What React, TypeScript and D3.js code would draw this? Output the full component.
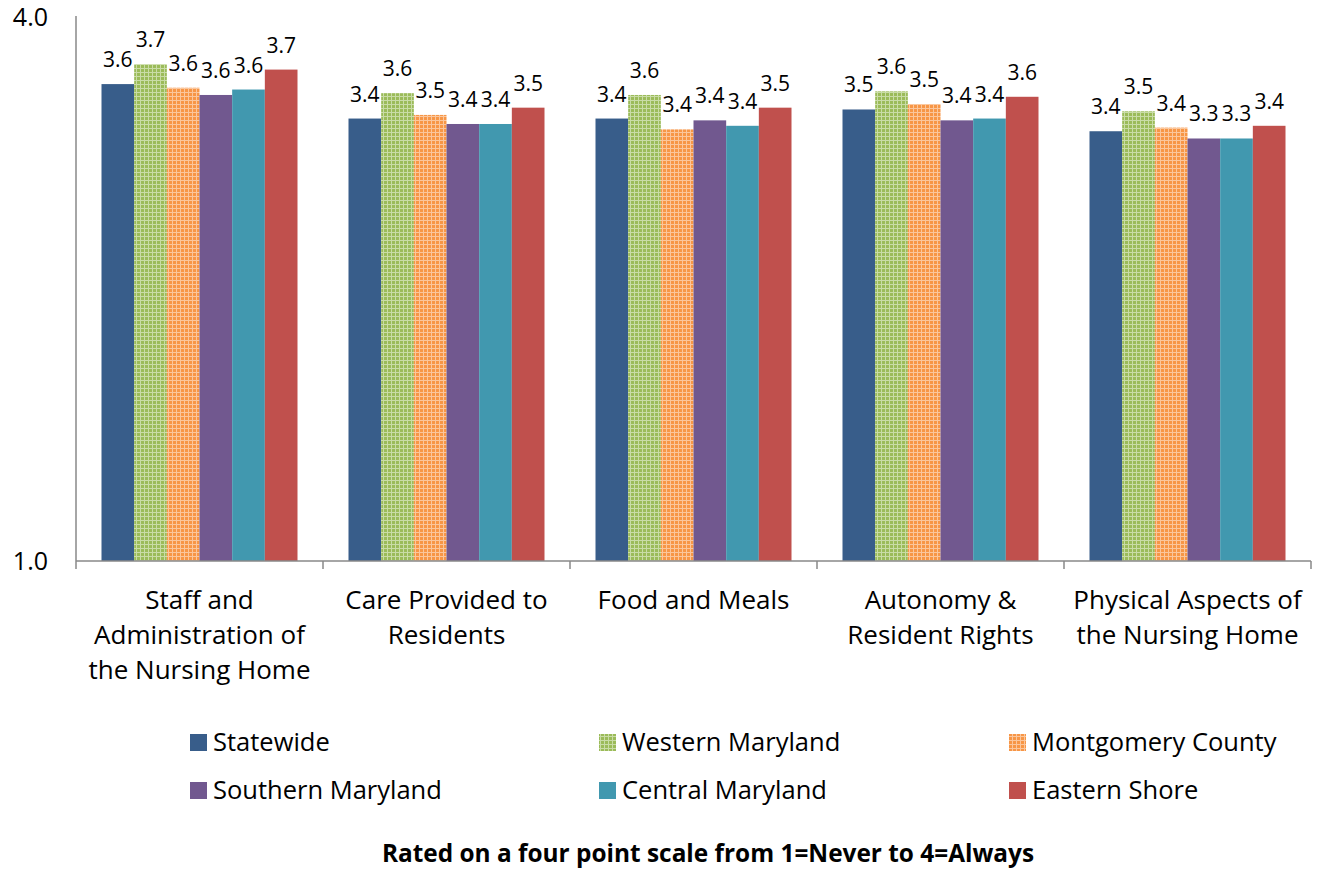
import React from "react";
import * as d3 from "d3";

const categories: string[][] = [
  ["Staff and", "Administration of", "the Nursing Home"],
  ["Care Provided to", "Residents"],
  ["Food and Meals"],
  ["Autonomy &", "Resident Rights"],
  ["Physical Aspects of", "the Nursing Home"],
];

const seriesNames = [
  "Statewide",
  "Western Maryland",
  "Montgomery County",
  "Southern Maryland",
  "Central Maryland",
  "Eastern Shore",
];

const statewide = [3.63, 3.44, 3.44, 3.49, 3.37];
const westernMaryland = [3.74, 3.58, 3.57, 3.59, 3.48];
const montgomeryCounty = [3.61, 3.46, 3.38, 3.52, 3.39];
const southernMaryland = [3.57, 3.41, 3.43, 3.43, 3.33];
const centralMaryland = [3.6, 3.41, 3.4, 3.44, 3.33];
const easternShore = [3.71, 3.5, 3.5, 3.56, 3.4];

const seriesValues = [statewide, westernMaryland, montgomeryCounty, southernMaryland, centralMaryland, easternShore];

const yTicks = [1, 4];
const footer = "Rated on a four point scale from 1=Never to 4=Always";

const colors = ["#385D8A", "#9BBB59", "#F79646", "#71588F", "#4198AF", "#C0504D"];
const patterned = [false, true, true, false, false, false];
const patternLight = ["", "#C9DCA6", "#FBC69C", "", "", ""];

const FONT = "'Open Sans', sans-serif";

export default function App() {
  const left = 76, right = 1311, top = 17, bottom = 561;
  const x0 = d3.scaleBand<number>().domain(d3.range(categories.length)).range([left, right]).padding(0);
  const bw = x0.bandwidth();
  const x1 = d3.scaleBand<number>().domain(d3.range(seriesNames.length)).range([25.5, bw - 25.5]).padding(0);
  const y = d3.scaleLinear().domain([1, 4]).range([bottom, top]);

  const legendCols = [190, 599, 1009];
  const legendRows = [734, 782];

  return (
    <div style={{ position: "fixed", left: 0, top: 0 }}>
      <svg width={1320} height={869} style={{ display: "block", background: "#fff" }}>
        <defs>
          {colors.map((c, i) =>
            patterned[i] ? (
              <pattern key={i} id={`pat${i}`} width={4} height={4} patternUnits="userSpaceOnUse">
                <rect width={4} height={4} fill={c} />
                <rect width={4} height={1} fill={patternLight[i]} />
                <rect width={1} height={4} fill={patternLight[i]} />
              </pattern>
            ) : null
          )}
        </defs>

        {/* bars */}
        {categories.map((_, ci) => (
          <g key={ci} transform={`translate(${x0(ci)},0)`}>
            {seriesValues.map((vals, si) => {
              const v = vals[ci];
              const bx = x1(si)!;
              const w = x1.bandwidth();
              return (
                <g key={si}>
                  <rect
                    x={bx}
                    y={y(v)}
                    width={w}
                    height={y(1) - y(v)}
                    fill={patterned[si] ? `url(#pat${si})` : colors[si]}
                  />
                  <text
                    x={bx + w / 2}
                    y={y(v) - 17}
                    textAnchor="middle"
                    fontFamily={FONT}
                    fontSize={21}
                    fill="#000"
                  >
                    {v.toFixed(1)}
                  </text>
                </g>
              );
            })}
          </g>
        ))}

        {/* axes */}
        <line x1={left} x2={left} y1={16} y2={bottom} stroke="#888" strokeWidth={1.5} />
        <line x1={left} x2={right} y1={bottom} y2={bottom} stroke="#888" strokeWidth={1.5} />
        {d3.range(categories.length + 1).map((i) => {
          const xx = i < categories.length ? x0(i)! : right;
          return <line key={i} x1={xx} x2={xx} y1={bottom} y2={bottom + 8} stroke="#888" strokeWidth={1.5} />;
        })}
        {yTicks.map((t) => (
          <text key={t} x={48} y={y(t) + 9} textAnchor="end" fontFamily={FONT} fontSize={25} fill="#000">
            {t.toFixed(1)}
          </text>
        ))}

        {/* category labels */}
        {categories.map((lines, ci) => (
          <text key={ci} textAnchor="middle" fontFamily={FONT} fontSize={26} fill="#000">
            {lines.map((ln, li) => (
              <tspan key={li} x={x0(ci)! + bw / 2} y={609 + li * 35}>
                {ln}
              </tspan>
            ))}
          </text>
        ))}

        {/* legend */}
        {seriesNames.map((name, i) => {
          const col = i % 3;
          const row = Math.floor(i / 3);
          const lx = legendCols[col];
          const ly = legendRows[row];
          return (
            <g key={name}>
              <rect x={lx} y={ly} width={17} height={17} fill={patterned[i] ? `url(#pat${i})` : colors[i]} />
              <text x={lx + 23} y={ly + 17} fontFamily={FONT} fontSize={25.5} fill="#000">
                {name}
              </text>
            </g>
          );
        })}

        <text x={708} y={862} textAnchor="middle" fontFamily={FONT} fontSize={24.4} fontWeight="bold" fill="#000">
          {footer}
        </text>
      </svg>
    </div>
  );
}
